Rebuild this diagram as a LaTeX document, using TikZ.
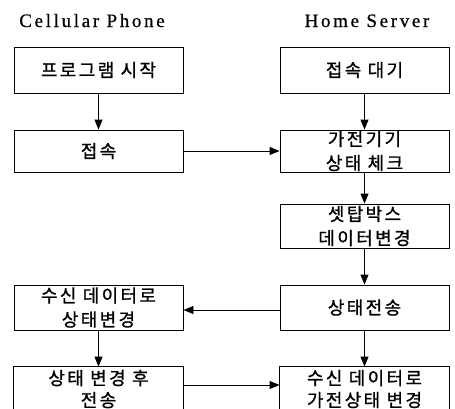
\documentclass[tikz,border=0pt]{standalone}
\usepackage{fontspec}
\setmainfont{Liberation Serif}
\newfontfamily\krfont[LetterSpace=13,FakeBold=1]{Noto Sans CJK KR}
\newfontfamily\hdfont[LetterSpace=14,FakeBold=0.6]{Liberation Serif}
\usetikzlibrary{arrows.meta}
\begin{document}
\begin{tikzpicture}[x=1pt,y=-1pt,
  box/.style={draw=black, line width=0.9pt, minimum width=169pt, inner sep=0pt,
    align=center, font=\krfont\fontsize{18}{24}\selectfont},
  openbox/.style={box, draw=none, font=\krfont\fontsize{18}{22}\selectfont},
  hdr/.style={anchor=base, font=\hdfont\fontsize{19}{22}\selectfont},
  edge/.style={draw=black, line width=0.9pt},
  flow/.style={draw=black, line width=0.9pt, -{Triangle[length=10pt,width=8pt]}}]
\useasboundingbox (0,0) rectangle (455,408);
\clip (0,0) rectangle (455,408);
\fill[white] (0,0) rectangle (455,408);
\node[hdr] (hl) at (92,27) {Cellular Phone};
\node[hdr] (hr) at (367,27) {Home Server};
% left column
\node[box, minimum height=46pt] (l1) at (98.5,70) {프로그램 시작};
\node[box, minimum height=42pt] (l2) at (98.5,151) {접속};
\node[box, minimum height=45pt] (l4) at (98.5,307.5) {수신 데이터로\\상태변경};
\node[openbox, minimum height=44pt] (l5) at (98.5,389) {상태 변경 후\\전송};
% right column
\node[box, minimum height=46pt] (r1) at (364.5,70) {접속 대기};
\node[box, minimum height=42pt] (r2) at (364.5,151) {가전기기\\상태 체크};
\node[box, minimum height=44pt] (r3) at (364.5,226) {셋탑박스\\데이터변경};
\node[box, minimum height=45pt] (r4) at (364.5,307.5) {상태전송};
\node[openbox, minimum height=44pt] (r5) at (364.5,389) {수신 데이터로\\가전상태 변경};
% the two lowest boxes run past the lower edge of the picture
\draw[edge] ([yshift=-6pt]l5.south west) -- (l5.north west) -- (l5.north east) -- ([yshift=-6pt]l5.south east);
\draw[edge] ([yshift=-6pt]r5.south west) -- (r5.north west) -- (r5.north east) -- ([yshift=-6pt]r5.south east);
\coordinate (ya) at (0,310);
\coordinate (yb) at (0,385);
% connectors
\draw[flow] (l1) -- (l2);
\draw[flow] (l4) -- (l5);
\draw[flow] (r1) -- (r2);
\draw[flow] (r2) -- (r3);
\draw[flow] (r3) -- (r4);
\draw[flow] (r4) -- (r5);
\draw[flow] (l2) -- (r2);
\draw[flow] (r4.west |- ya) -- (l4.east |- ya);
\draw[flow] (l5.east |- yb) -- (r5.west |- yb);
\end{tikzpicture}
\end{document}
